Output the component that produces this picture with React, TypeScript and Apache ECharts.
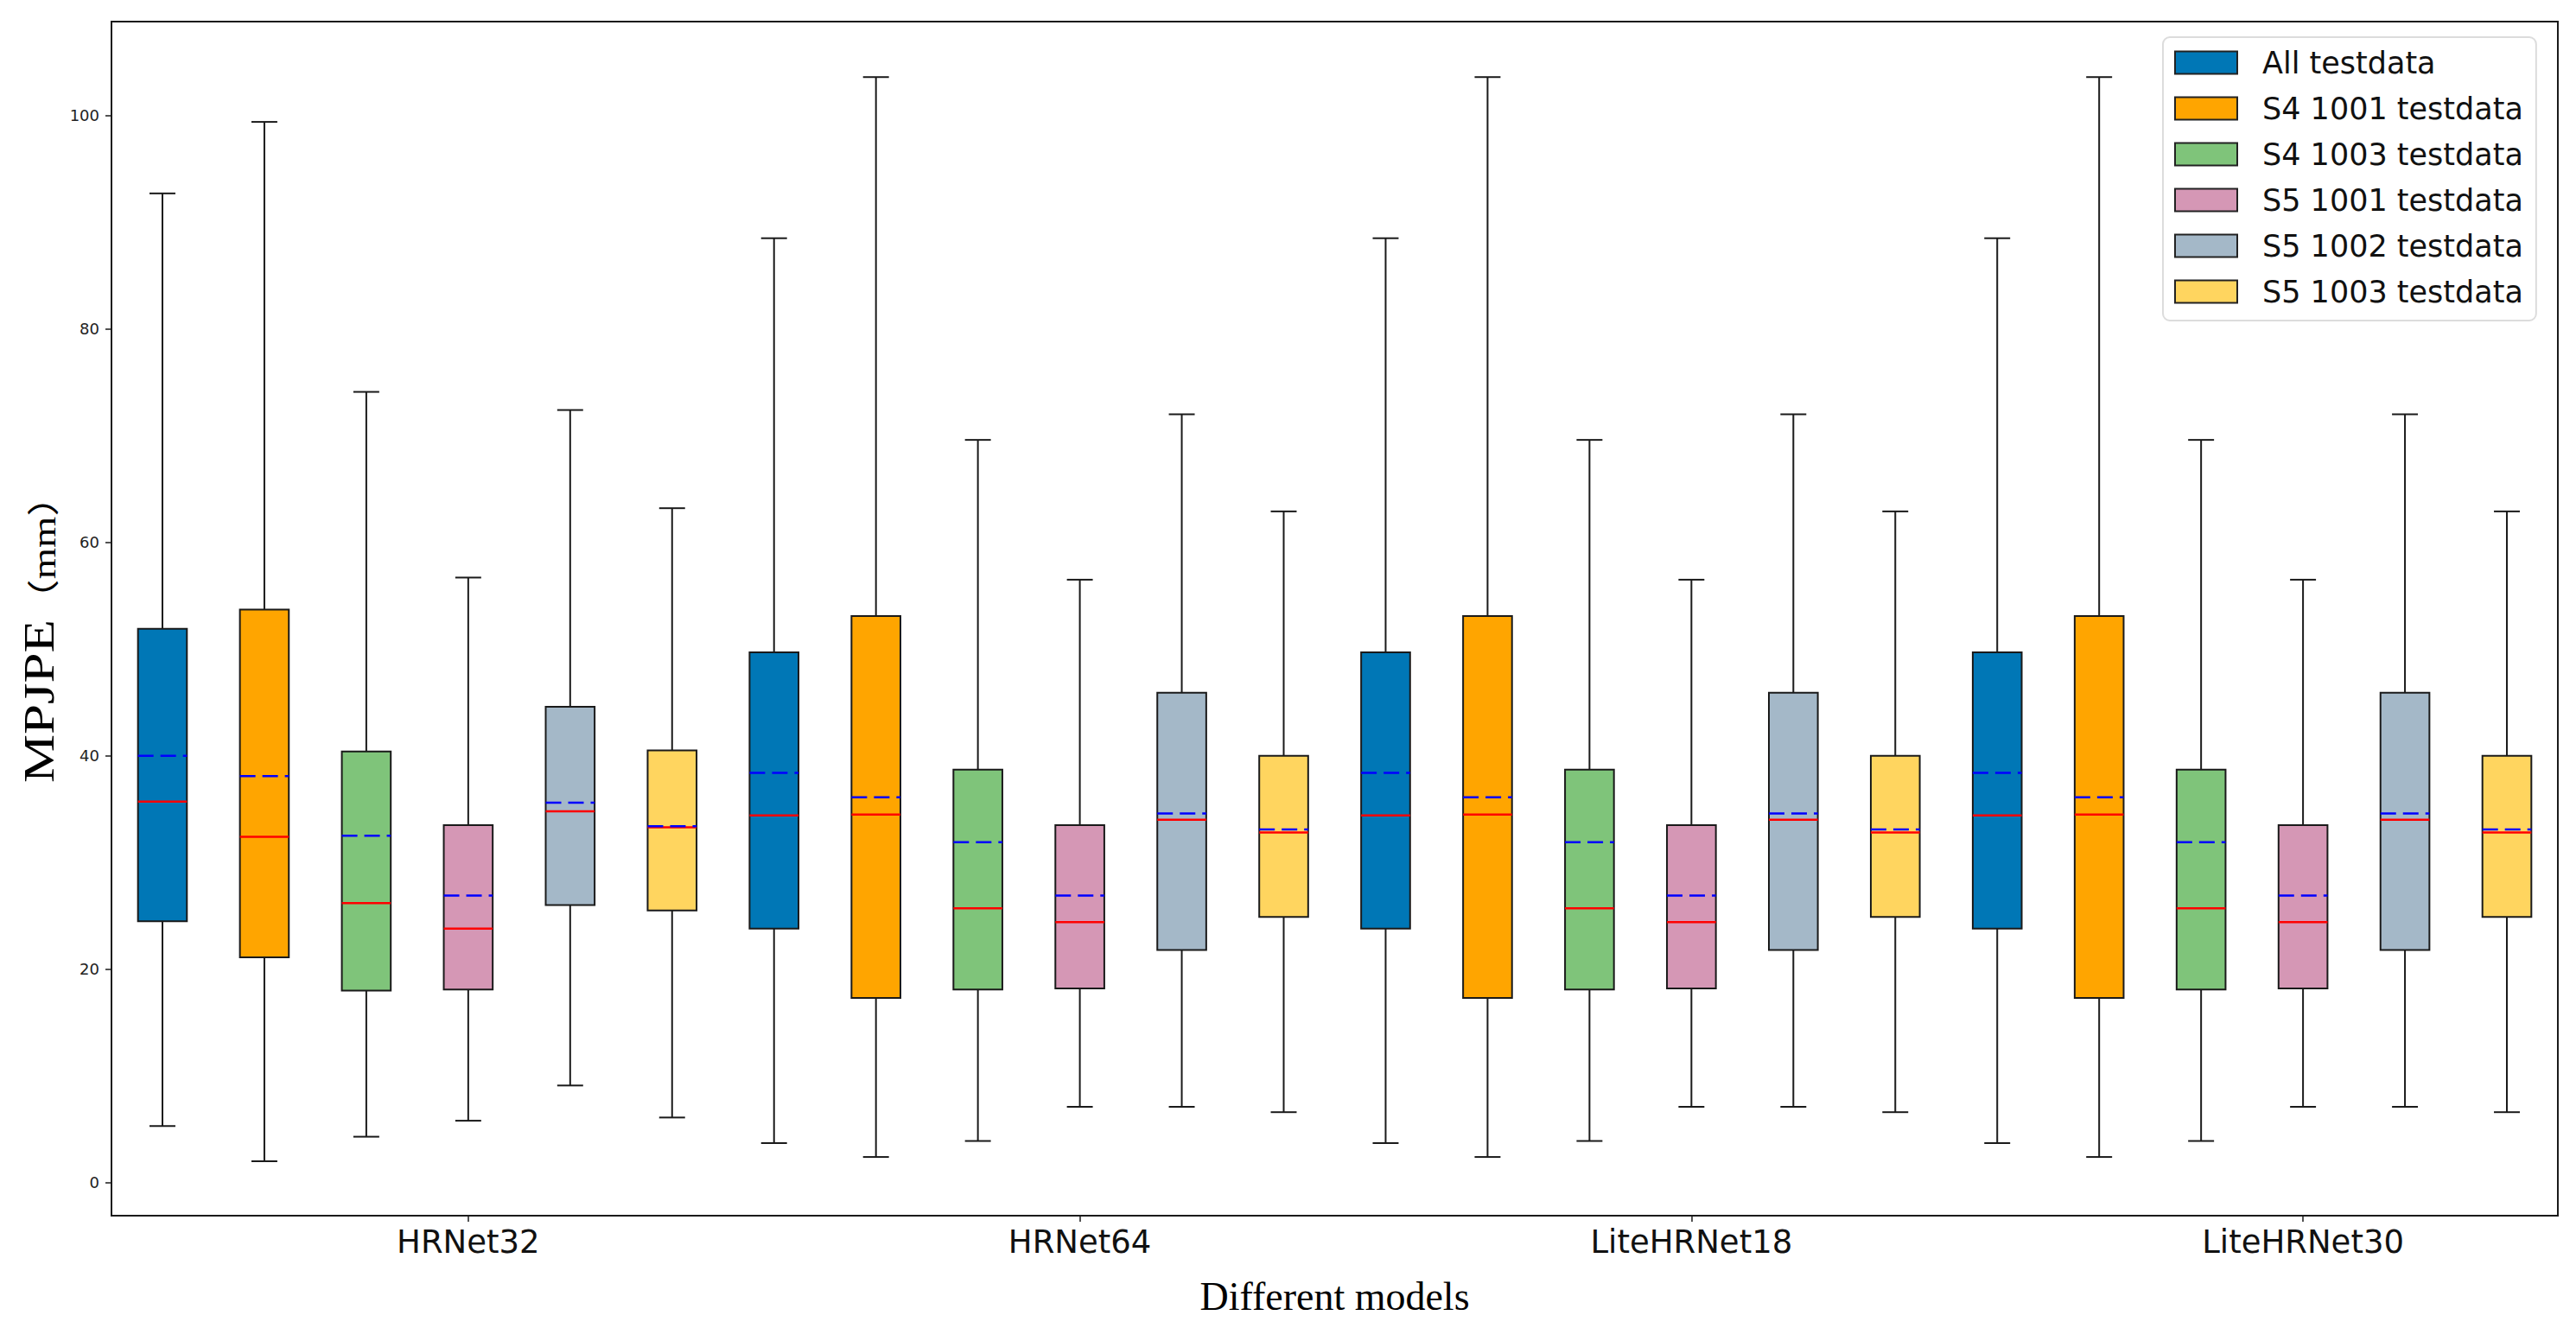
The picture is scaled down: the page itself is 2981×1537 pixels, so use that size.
import React, { useEffect, useRef } from 'react';
import * as echarts from 'echarts';

const categories = ['HRNet32', 'HRNet64', 'LiteHRNet18', 'LiteHRNet30'];
const seriesNames = [
  'All testdata',
  'S4 1001 testdata',
  'S4 1003 testdata',
  'S5 1001 testdata',
  'S5 1002 testdata',
  'S5 1003 testdata',
];
const seriesColors = ['#0077B6', '#FFA500', '#7FC47A', '#D597B5', '#A4B8C8', '#FFD55F'];
const yTickValues = [0, 20, 40, 60, 80, 100];
const xAxisTitle = 'Different models';
const yAxisTitleMain = 'MPJPE';
const yAxisTitleUnit = '（mm）';

// each row: [whiskerLow, q1, median, q3, whiskerHigh, mean], one row per model
const allTestdata = [
  [5.3, 24.5, 35.7, 51.9, 92.7, 40.0],
  [3.7, 23.8, 34.4, 49.7, 88.5, 38.4],
  [3.7, 23.8, 34.4, 49.7, 88.5, 38.4],
  [3.7, 23.8, 34.4, 49.7, 88.5, 38.4],
];
const s4_1001 = [
  [2.0, 21.1, 32.4, 53.7, 99.4, 38.1],
  [2.4, 17.3, 34.5, 53.1, 103.6, 36.1],
  [2.4, 17.3, 34.5, 53.1, 103.6, 36.1],
  [2.4, 17.3, 34.5, 53.1, 103.6, 36.1],
];
const s4_1003 = [
  [4.3, 18.0, 26.2, 40.4, 74.1, 32.5],
  [3.9, 18.1, 25.7, 38.7, 69.6, 31.9],
  [3.9, 18.1, 25.7, 38.7, 69.6, 31.9],
  [3.9, 18.1, 25.7, 38.7, 69.6, 31.9],
];
const s5_1001 = [
  [5.8, 18.1, 23.8, 33.5, 56.7, 26.9],
  [7.1, 18.2, 24.4, 33.5, 56.5, 26.9],
  [7.1, 18.2, 24.4, 33.5, 56.5, 26.9],
  [7.1, 18.2, 24.4, 33.5, 56.5, 26.9],
];
const s5_1002 = [
  [9.1, 26.0, 34.8, 44.6, 72.4, 35.6],
  [7.1, 21.8, 34.0, 45.9, 72.0, 34.6],
  [7.1, 21.8, 34.0, 45.9, 72.0, 34.6],
  [7.1, 21.8, 34.0, 45.9, 72.0, 34.6],
];
const s5_1003 = [
  [6.1, 25.5, 33.3, 40.5, 63.2, 33.4],
  [6.6, 24.9, 32.8, 40.0, 62.9, 33.1],
  [6.6, 24.9, 32.8, 40.0, 62.9, 33.1],
  [6.6, 24.9, 32.8, 40.0, 62.9, 33.1],
];
const seriesStats = [allTestdata, s4_1001, s4_1003, s5_1001, s5_1002, s5_1003];

const perGroup = seriesNames.length;
const tickPositions = categories.map((_, g) => g * perGroup + 4);

const renderItem = (params: any, api: any) => {
  const pos = api.value(0);
  const low = api.value(1);
  const q1 = api.value(2);
  const med = api.value(3);
  const q3 = api.value(4);
  const high = api.value(5);
  const mean = api.value(6);
  const pLow = api.coord([pos, low]);
  const pQ1 = api.coord([pos, q1]);
  const pMed = api.coord([pos, med]);
  const pQ3 = api.coord([pos, q3]);
  const pHigh = api.coord([pos, high]);
  const pMean = api.coord([pos, mean]);
  const x = pLow[0];
  const boxHalf = api.size([0.24, 0])[0];
  const capHalf = api.size([0.127, 0])[0];
  const color = api.visual('color');
  const stroke = { stroke: '#1a1a1a', lineWidth: 2 };
  return {
    type: 'group',
    children: [
      { type: 'line', shape: { x1: x, y1: pQ3[1], x2: x, y2: pHigh[1] }, style: stroke },
      { type: 'line', shape: { x1: x, y1: pQ1[1], x2: x, y2: pLow[1] }, style: stroke },
      { type: 'line', shape: { x1: x - capHalf, y1: pHigh[1], x2: x + capHalf, y2: pHigh[1] }, style: stroke },
      { type: 'line', shape: { x1: x - capHalf, y1: pLow[1], x2: x + capHalf, y2: pLow[1] }, style: stroke },
      {
        type: 'rect',
        shape: { x: x - boxHalf, y: pQ3[1], width: boxHalf * 2, height: pQ1[1] - pQ3[1] },
        style: { fill: color, stroke: '#1a1a1a', lineWidth: 2 },
      },
      {
        type: 'line',
        shape: { x1: x - boxHalf, y1: pMed[1], x2: x + boxHalf, y2: pMed[1] },
        style: { stroke: '#ff0000', lineWidth: 2.5 },
      },
      {
        type: 'line',
        shape: { x1: x - boxHalf, y1: pMean[1], x2: x + boxHalf, y2: pMean[1] },
        style: { stroke: '#0000ff', lineWidth: 2.5, lineDash: [18, 8] },
      },
    ],
  };
};

export default function App() {
  const ref = useRef<HTMLDivElement>(null);
  useEffect(() => {
    document.body.style.margin = '0';
    const chart = echarts.init(ref.current!, null, { renderer: 'svg' });
    const series = seriesNames.map((name, s) => ({
      name,
      type: 'custom',
      renderItem,
      itemStyle: { color: seriesColors[s] },
      encode: { x: 0, y: [1, 2, 3, 4, 5, 6] },
      data: categories.map((_, g) => [g * perGroup + s + 1, ...seriesStats[s][g]]),
    }));
    chart.setOption({
      animation: false,
      backgroundColor: '#ffffff',
      grid: {
        show: true,
        left: 129,
        right: 21,
        top: 25,
        bottom: 130,
        borderColor: '#1a1a1a',
        borderWidth: 2,
        backgroundColor: 'transparent',
      },
      graphic: [
        {
          type: 'text',
          x: 45,
          y: 906,
          rotation: Math.PI / 2,
          scaleX: 1.26,
          style: {
            text: `{a|${yAxisTitleMain}}{b|${yAxisTitleUnit}}`,
            textAlign: 'left',
            textVerticalAlign: 'middle',
            fill: '#000',
            rich: {
              a: { fontFamily: 'Liberation Serif', fontSize: 50, verticalAlign: 'bottom', fill: '#000' },
              b: { fontFamily: 'Liberation Serif, Noto Sans CJK SC', fontSize: 37, verticalAlign: 'bottom', fill: '#000' },
            },
          },
        },
      ],
      legend: {
        orient: 'vertical',
        left: 2503,
        top: 43,
        align: 'left',
        icon: 'rect',
        itemWidth: 72,
        itemHeight: 26,
        itemGap: 18,
        padding: [12, 15, 16, 13],
        backgroundColor: '#ffffff',
        borderColor: '#dcdcdc',
        borderWidth: 2,
        borderRadius: 8,
        textStyle: {
          fontFamily: 'DejaVu Sans',
          fontSize: 35,
          lineHeight: 35,
          color: '#111',
          padding: [0, 0, 0, 24],
        },
        data: seriesNames.map((name, s) => ({
          name,
          icon: 'rect',
          itemStyle: { color: seriesColors[s], borderColor: '#222', borderWidth: 2 },
        })),
      },
      xAxis: {
        type: 'value',
        min: 0.5,
        max: 24.5,
        name: xAxisTitle,
        nameLocation: 'middle',
        nameGap: 70,
        nameTextStyle: { fontFamily: 'Liberation Serif', fontSize: 46, color: '#000' },
        splitLine: { show: false },
        axisLine: { show: true, onZero: false, lineStyle: { color: '#1a1a1a', width: 2 } },
        axisTick: { show: true, length: 7, lineStyle: { color: '#1a1a1a', width: 1.5 }, customValues: tickPositions },
        axisLabel: {
          customValues: tickPositions,
          formatter: (v: number) => categories[Math.round((v - 4) / perGroup)] ?? '',
          fontFamily: 'DejaVu Sans',
          fontSize: 37,
          color: '#111',
          margin: 12,
        },
      },
      yAxis: {
        type: 'value',
        min: -3.1,
        max: 108.8,
        splitLine: { show: false },
        axisLine: { show: true, lineStyle: { color: '#1a1a1a', width: 2 } },
        axisTick: { show: true, length: 7, lineStyle: { color: '#1a1a1a', width: 1.5 }, customValues: yTickValues },
        axisLabel: {
          customValues: yTickValues,
          fontFamily: 'DejaVu Sans',
          fontSize: 18,
          color: '#222',
          margin: 14,
        },
      },
      series,
    });
    return () => chart.dispose();
  }, []);
  return <div ref={ref} style={{ width: 2981, height: 1537 }} />;
}
